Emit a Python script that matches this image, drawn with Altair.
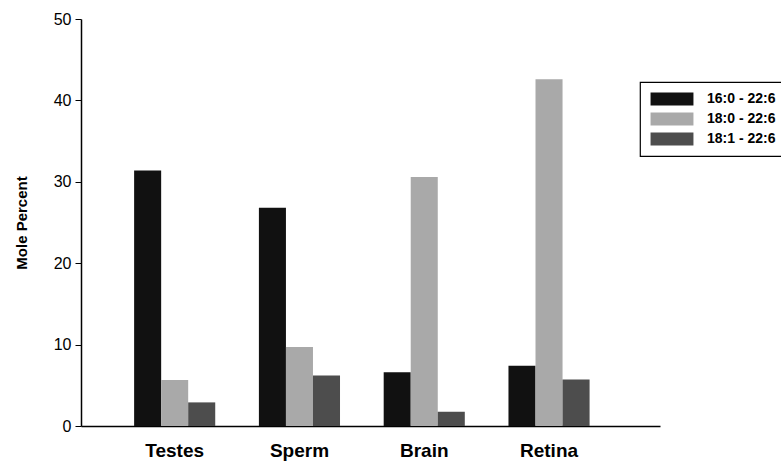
import altair as alt
import pandas as pd

categories = ["Testes", "Sperm", "Brain", "Retina"]
series = ["16:0 - 22:6", "18:0 - 22:6", "18:1 - 22:6"]
v_16_0 = [31.4, 26.8, 6.6, 7.4]
v_18_0 = [5.65, 9.7, 30.6, 42.6]
v_18_1 = [2.9, 6.2, 1.75, 5.7]
colors = ["#111111", "#a9a9a9", "#4d4d4d"]

rows = []
for s, vals in zip(series, [v_16_0, v_18_0, v_18_1]):
    for c, v in zip(categories, vals):
        rows.append({"Tissue": c, "Species": s, "Value": v})
df = pd.DataFrame(rows)

FONT = "Liberation Sans"

chart = alt.Chart(df).mark_bar().encode(
    x=alt.X("Tissue:N", sort=categories,
            scale=alt.Scale(paddingInner=0.35, paddingOuter=0.495, align=0.43),
            axis=alt.Axis(title=None, labelAngle=0, ticks=False, labelFontSize=19,
                          labelFontWeight="bold", labelPadding=15, labelColor="black",
                          domainColor="black", domainWidth=1.5, labelFont=FONT)),
    xOffset=alt.XOffset("Species:N", sort=series,
                        scale=alt.Scale(paddingInner=0, paddingOuter=0)),
    y=alt.Y("Value:Q", scale=alt.Scale(domain=[0, 50], nice=False),
            axis=alt.Axis(title="Mole Percent", values=[0, 10, 20, 30, 40, 50], grid=False,
                          tickSize=6, tickColor="black", labelPadding=4, labelFontSize=16,
                          labelColor="black", labelFont=FONT, titleFont=FONT,
                          titleFontSize=15, titleFontWeight="bold", titleColor="black",
                          titlePadding=24, domainColor="black", domainWidth=1.5)),
    color=alt.Color("Species:N", sort=series,
                    scale=alt.Scale(domain=series, range=colors),
                    legend=alt.Legend(title=None, orient="none", legendX=559, legendY=63,
                                      symbolType="M-3.3,-1H3.3V1H-3.3Z", symbolSize=169,
                                      symbolOffset=15, symbolStrokeWidth=0,
                                      labelOffset=28, labelFontSize=14, labelFontWeight="bold",
                                      labelFont=FONT, labelColor="black",
                                      rowPadding=6, padding=10,
                                      strokeColor="black", fillColor="white")),
).properties(
    width=579, height=407,
    autosize=alt.AutoSizeParams(type="none"),
    padding={"left": 81, "top": 19, "right": 121, "bottom": 38},
).configure_view(stroke=None).configure_legend(strokeWidth=1.2)

chart.save("out.html", embed_options={"renderer": "svg", "actions": False})
